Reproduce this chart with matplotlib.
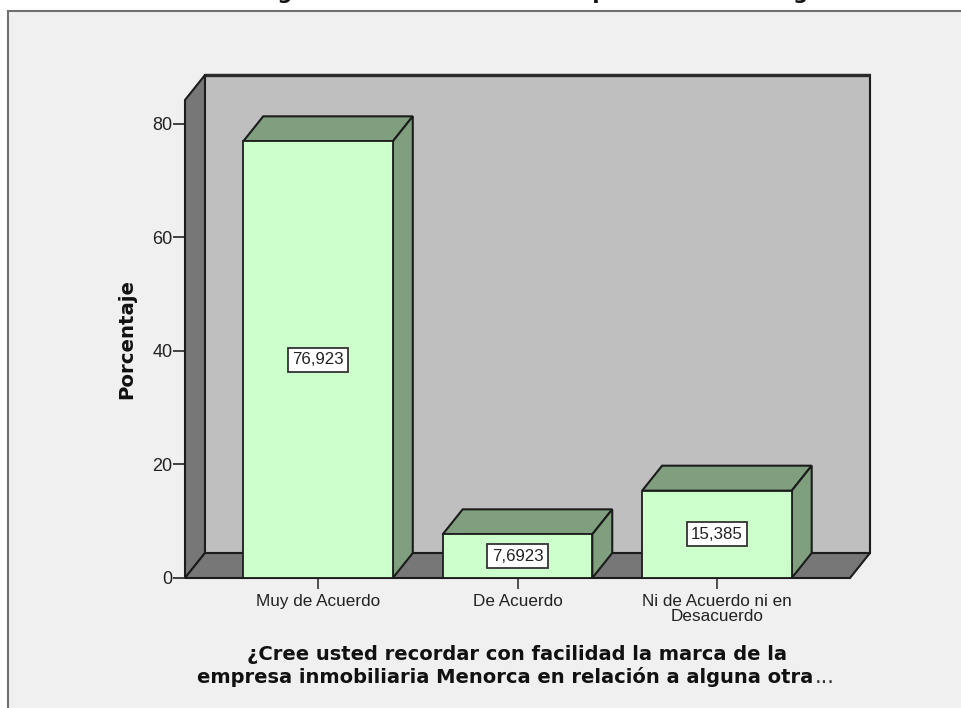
import matplotlib
matplotlib.use("Agg")
import matplotlib.pyplot as plt
from matplotlib.patches import Polygon, Rectangle
from matplotlib.lines import Line2D

# values
categories = ["Muy de Acuerdo", "De Acuerdo", "Ni de Acuerdo ni en\nDesacuerdo"]
values = [76.923, 7.6923, 15.385]
value_labels = ["76,923", "7,6923", "15,385"]
y_ticks = [0, 20, 40, 60, 80]

W, H = 962, 708
front = "#ccffcc"
shade = "#7f9f7f"
edge = "#1c1c1c"

fig = plt.figure(figsize=(W / 100, H / 100), dpi=100, facecolor="white")

# grey panel, cut off at the right and bottom like the screenshot
fig.add_artist(Rectangle((8 / W, 0), 1, 1 - 11 / H, transform=fig.transFigure,
                         facecolor="#f0f0f0", edgecolor="none", zorder=-2))
fig.add_artist(Line2D([8 / W, 1], [1 - 11 / H, 1 - 11 / H], color="#707070", lw=1.5, zorder=-1))
fig.add_artist(Line2D([8 / W, 8 / W], [0, 1 - 11 / H], color="#707070", lw=1.5, zorder=-1))

ax = fig.add_axes([185 / W, 1 - 578 / H, 665 / W, 478 / H])
ax.patch.set_visible(False)
for s in ax.spines.values():
    s.set_visible(False)
ax.set_xlim(-0.667, 2.667)
ax.set_ylim(0, 84.2)
x0, x1 = ax.get_xlim()
y1 = ax.get_ylim()[1]

# depth of the 3d box, in data units
dx = 0.1
dy = 4.4


def face(pts, color, lw=1.5, z=1):
    ax.add_patch(Polygon(pts, closed=True, facecolor=color, edgecolor=edge,
                         linewidth=lw, joinstyle="miter", clip_on=False, zorder=z))


# back wall, left wall, floor
face([(x0 + dx, dy), (x1 + dx, dy), (x1 + dx, y1 + dy), (x0 + dx, y1 + dy)], "#bfbfbf", z=1)
face([(x0, 0), (x0 + dx, dy), (x0 + dx, y1 + dy), (x0, y1)], "#777777", z=2)
face([(x0, 0), (x1, 0), (x1 + dx, dy), (x0 + dx, dy)], "#777777", z=2)
# the top edge of the wall is heavier
ax.plot([x0 + dx, x1 + dx], [y1 + dy, y1 + dy], color="#2a2a2a", lw=2.4,
        clip_on=False, zorder=2, solid_capstyle="butt")

bar_w = 0.75
for i, v in enumerate(values):
    l = i - bar_w / 2
    r = i + bar_w / 2
    face([(l, v), (r, v), (r + dx, v + dy), (l + dx, v + dy)], shade, z=3)
    face([(r, 0), (r + dx, dy), (r + dx, v + dy), (r, v)], shade, z=3)
    face([(l, 0), (r, 0), (r, v), (l, v)], front, lw=1.3, z=4)
    ax.text(i, v / 2, value_labels[i], ha="center", va="center", fontsize=12.2,
            family="Liberation Sans", color="#222222", zorder=5,
            bbox=dict(boxstyle="square,pad=0.26", facecolor="white",
                      edgecolor="#333333", linewidth=1.3))

ax.set_yticks(y_ticks)
ax.set_xticks(range(len(categories)))
ax.set_xticklabels(categories, family="Liberation Sans", fontsize=12.3,
                   color="#222222", linespacing=0.98)
ax.tick_params(axis="y", length=8.5, width=1.3, color="#333333", pad=0.5,
               labelsize=13, labelcolor="#222222")
ax.tick_params(axis="x", length=8, width=1.3, color="#444444", pad=3.5)
for t in ax.get_yticklabels():
    t.set_family("Liberation Sans")

fig.text(127 / W, 1 - 339 / H, "Porcentaje", rotation=90, ha="center", va="center",
         family="DejaVu Sans", fontweight="bold", fontsize=14.2, color="#111111")
fig.text(517 / W, 1 - 654 / H, "¿Cree usted recordar con facilidad la marca de la",
         ha="center", va="center", family="DejaVu Sans", fontweight="bold",
         fontsize=14, color="#111111")
fig.text(197 / W, 1 - 677 / H, "empresa inmobiliaria Menorca en relación a alguna otra",
         ha="left", va="center", family="DejaVu Sans", fontweight="bold",
         fontsize=14, color="#111111")
fig.text(815 / W, 1 - 683 / H, "...", ha="left", va="baseline", family="DejaVu Sans",
         fontsize=15, color="#333333")

# title line is cut off by the top of the screenshot, only the descenders show
fig.text(490 / W, 1 + 1 / H, "en relación a alguna otra marca de la competencia en el segmento",
         ha="center", va="baseline", family="DejaVu Sans", fontweight="bold",
         fontsize=15, color="#111111")

fig.savefig("out.png", dpi=100, facecolor=fig.get_facecolor())
